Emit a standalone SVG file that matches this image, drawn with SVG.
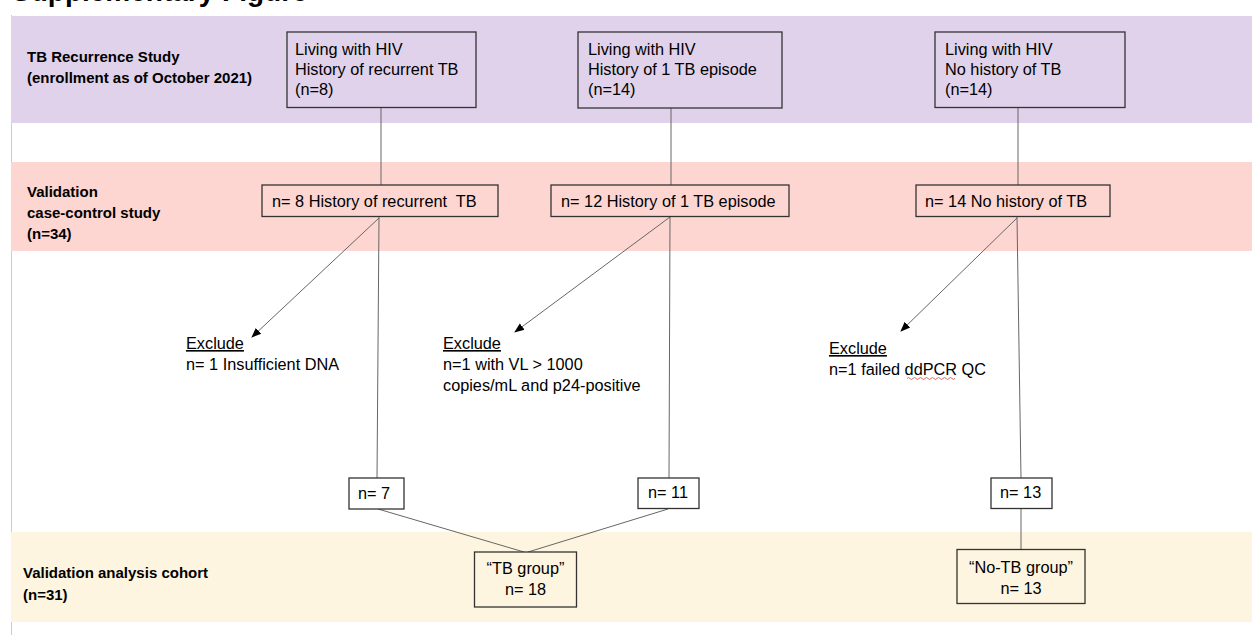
<svg xmlns="http://www.w3.org/2000/svg" width="1252" height="635" viewBox="0 0 1252 635">
<defs>
<style>
.lbl{font-family:"Liberation Sans",Arial,sans-serif;font-weight:bold;font-size:15px;fill:#000}
.t{font-family:"Liberation Sans",Arial,sans-serif;font-size:16.3px;fill:#000}
.box{stroke:#333;stroke-width:1.3}
.con{stroke:#666;stroke-width:1;fill:none}
</style>
<marker id="ah" viewBox="0 0 10 10" refX="9" refY="5" markerWidth="10" markerHeight="10" markerUnits="userSpaceOnUse" orient="auto">
<path d="M0,1 L10,5 L0,9 z" fill="#000"/>
</marker>
</defs>
<rect width="1252" height="635" fill="#fff"/>
<text x="12" y="1" style="font-family:'Liberation Sans',Arial,sans-serif;font-weight:bold;font-size:28px" fill="#000">Supplementary Figure</text>
<line x1="11.5" y1="15" x2="11.5" y2="635" stroke="#ccc" stroke-width="1"/>
<g id="bands">
<rect x="11" y="16" width="1241" height="107" fill="#e0d2ea"/>
<rect x="11" y="162" width="1241" height="89" fill="#fdd6d1"/>
<rect x="11" y="532" width="1241" height="90" fill="#fef5e0"/>
</g>
<g id="row-labels">
<text class="lbl" x="27" y="62">TB Recurrence Study</text>
<text class="lbl" x="27" y="83">(enrollment as of October 2021)</text>
<text class="lbl" x="27" y="197">Validation</text>
<text class="lbl" x="27" y="218">case-control study</text>
<text class="lbl" x="27" y="239">(n=34)</text>
<text class="lbl" x="23" y="578">Validation analysis cohort</text>
<text class="lbl" x="23" y="600">(n=31)</text>
</g>
<g id="connectors">
<line class="con" x1="381" y1="108" x2="381" y2="185"/>
<line class="con" x1="671" y1="108" x2="671" y2="185"/>
<line class="con" x1="1018" y1="108" x2="1018" y2="185"/>
<line class="con" x1="379" y1="217" x2="377" y2="478"/>
<line class="con" x1="670" y1="217" x2="669" y2="478"/>
<line class="con" x1="1017" y1="217" x2="1021" y2="478"/>
<line class="con" x1="379" y1="218" x2="252" y2="337" marker-end="url(#ah)"/>
<line class="con" x1="670" y1="217" x2="515" y2="332" marker-end="url(#ah)"/>
<line class="con" x1="1017" y1="218" x2="901" y2="331" marker-end="url(#ah)"/>
<line class="con" x1="378" y1="509" x2="524" y2="552"/>
<line class="con" x1="668" y1="509" x2="528" y2="552"/>
<line class="con" x1="1021" y1="509" x2="1021" y2="549"/>
</g>
<g id="n-recurrent">
<rect class="box" x="287" y="32" width="189" height="75.5" fill="none"/>
<text class="t" x="295" y="55">Living with HIV</text>
<text class="t" x="295" y="75">History of recurrent TB</text>
<text class="t" x="295" y="95">(n=8)</text>
</g>
<g id="n-one">
<rect class="box" x="578" y="32" width="204" height="76" fill="none"/>
<text class="t" x="588" y="55">Living with HIV</text>
<text class="t" x="588" y="75">History of 1 TB episode</text>
<text class="t" x="588" y="95">(n=14)</text>
</g>
<g id="n-none">
<rect class="box" x="935" y="32" width="190" height="75.5" fill="none"/>
<text class="t" x="945" y="55">Living with HIV</text>
<text class="t" x="945" y="75">No history of TB</text>
<text class="t" x="945" y="95">(n=14)</text>
</g>
<g id="v-recurrent">
<rect class="box" x="262" y="185" width="236" height="31.5" fill="#fdd6d1"/>
<text class="t" x="272" y="207">n= 8 History of recurrent&#160; TB</text>
</g>
<g id="v-one">
<rect class="box" x="551" y="185" width="238" height="31.5" fill="#fdd6d1"/>
<text class="t" x="561" y="207">n= 12 History of 1 TB episode</text>
</g>
<g id="v-none">
<rect class="box" x="916" y="185" width="194" height="31.5" fill="#fdd6d1"/>
<text class="t" x="925" y="207">n= 14 No history of TB</text>
</g>
<g id="ex-1">
<text class="t" x="186" y="349" text-decoration="underline">Exclude</text>
<text class="t" x="186" y="370">n= 1 Insufficient DNA</text>
</g>
<g id="ex-2">
<text class="t" x="443" y="349" text-decoration="underline">Exclude</text>
<text class="t" x="443" y="370">n=1 with VL &gt; 1000</text>
<text class="t" x="443" y="391">copies/mL and p24-positive</text>
</g>
<g id="ex-3">
<text class="t" x="829" y="354" text-decoration="underline">Exclude</text>
<text class="t" x="829" y="375">n=1 failed ddPCR QC</text>
<path d="M907,378.5 q1.5,-2 3,0 t3,0 t3,0 t3,0 t3,0 t3,0 t3,0 t3,0 t3,0 t3,0 t3,0 t3,0 t3,0 t3,0 t3,0 t3,0" fill="none" stroke="#e04040" stroke-width="0.8"/>
</g>
<g id="k-7">
<rect class="box" x="349" y="478" width="55" height="31" fill="#fff"/>
<text class="t" x="358" y="499">n= 7</text>
</g>
<g id="k-11">
<rect class="box" x="638" y="478" width="61" height="30.5" fill="#fff"/>
<text class="t" x="648" y="498">n= 11</text>
</g>
<g id="k-13">
<rect class="box" x="991" y="478" width="61" height="30.5" fill="#fff"/>
<text class="t" x="1000" y="498">n= 13</text>
</g>
<g id="tb-group">
<rect class="box" x="474.5" y="552" width="102" height="55" fill="#fef5e0"/>
<text class="t" x="525.5" y="574" text-anchor="middle">“TB group”</text>
<text class="t" x="525.5" y="595" text-anchor="middle">n= 18</text>
</g>
<g id="notb-group">
<rect class="box" x="957" y="549.5" width="128" height="54" fill="#fef5e0"/>
<text class="t" x="1021" y="573" text-anchor="middle">“No-TB group”</text>
<text class="t" x="1021" y="594" text-anchor="middle">n= 13</text>
</g>
</svg>
